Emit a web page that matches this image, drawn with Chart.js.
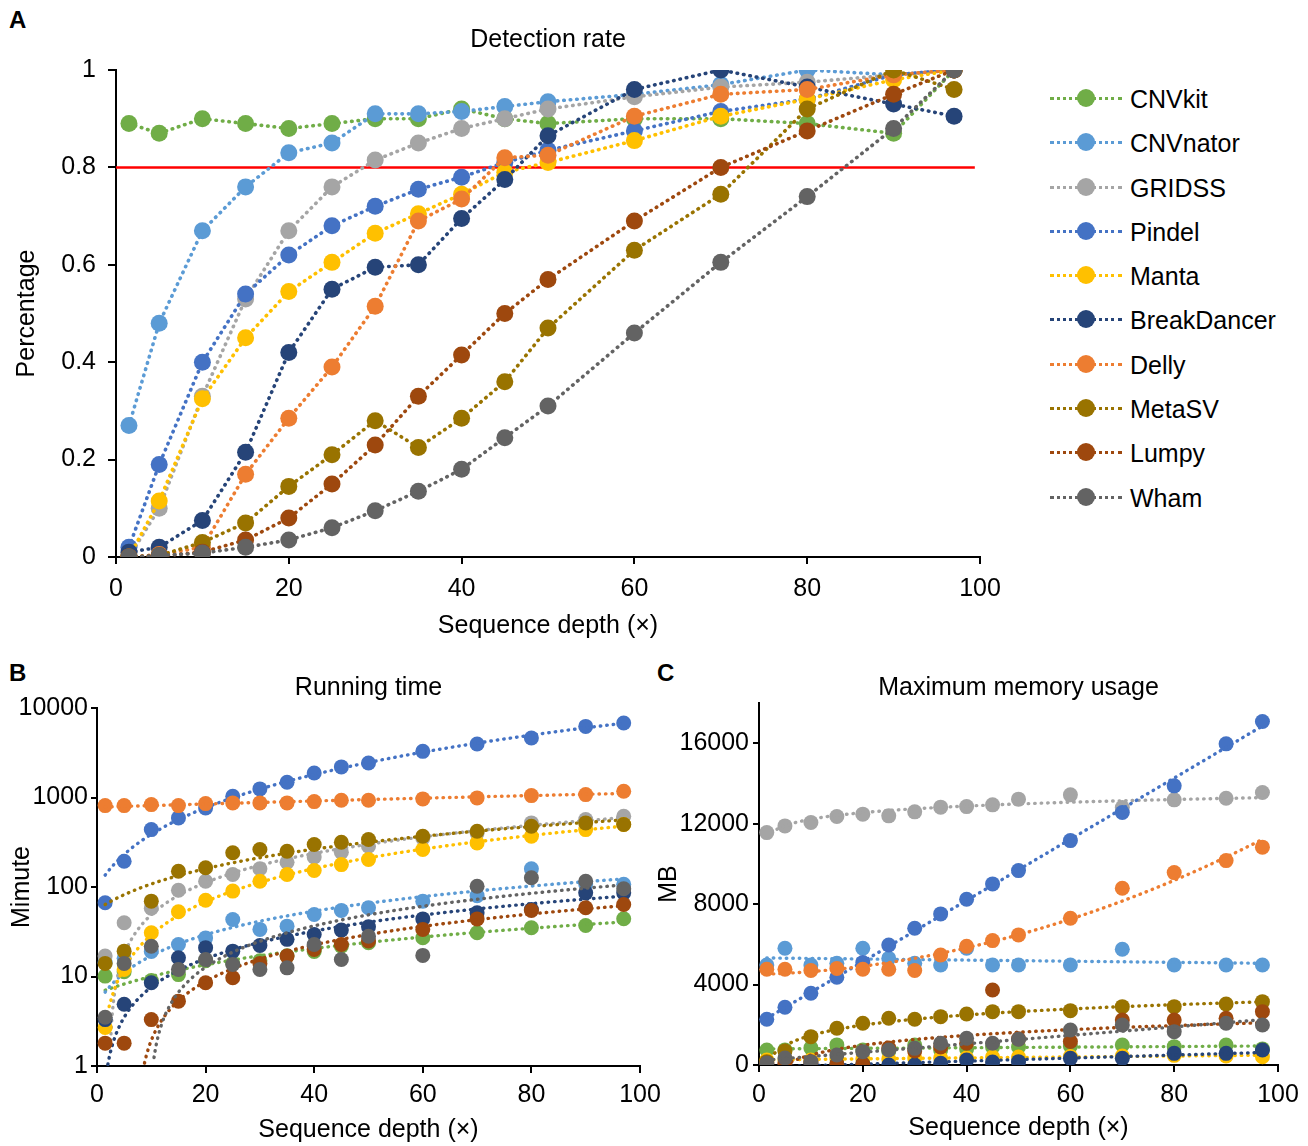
<!DOCTYPE html>
<html>
<head>
<meta charset="utf-8">
<script src="https://cdn.jsdelivr.net/npm/chart.js@4.4.1/dist/chart.umd.min.js"></script>
<style>
  body { margin: 0; background: #fff; font-family: 'Liberation Sans', Arial, sans-serif; }
  #wrap { position: relative; width: 1308px; height: 1146px; overflow: hidden; }
  canvas { position: absolute; }
  .tag { position: absolute; font-weight: bold; font-size: 24px; }
  .legend { position: absolute; left: 1050px; top: 76px; }
  .item { position: relative; height: 44.3px; font-size: 25px; width: 250px; }
  .item .ln { position: absolute; left: 0; top: 21px; width: 72px; border-top: 3px dotted; }
  .item .dot { position: absolute; left: 27px; top: 13px; width: 18px; height: 18px; border-radius: 50%; }
  .item span { position: absolute; left: 80px; top: 8px; line-height: 30px; white-space: nowrap; }
</style>
</head>
<body>
<div id="wrap">
  <div class="tag" style="left:9px;top:6px">A</div>
  <div class="tag" style="left:9px;top:659px">B</div>
  <div class="tag" style="left:657px;top:659px">C</div>
  <canvas id="rate" width="1040" height="650" style="left:0;top:0"></canvas>
  <canvas id="runtime" width="660" height="496" style="left:0;top:650px"></canvas>
  <canvas id="memory" width="658" height="496" style="left:650px;top:650px"></canvas>
  <div class="legend" id="legend"></div>
</div>
<script>
// ---- data ----
const depths = [1.5, 5, 10, 15, 20, 25, 30, 35, 40, 45, 50, 60, 70, 80, 90, 97];
const tools = ['CNVkit', 'CNVnator', 'GRIDSS', 'Pindel', 'Manta', 'BreakDancer', 'Delly', 'MetaSV', 'Lumpy', 'Wham'];
const colors = ['#70AD47', '#5B9BD5', '#A5A5A5', '#4472C4', '#FFC000', '#264478', '#ED7D31', '#997300', '#9E480E', '#636363'];

const depthTicks = [0, 20, 40, 60, 80, 100];
const rateTicks = [0, 0.2, 0.4, 0.6, 0.8, 1];
const runTicks = [1, 10, 100, 1000, 10000];
const memTicks = [0, 4000, 8000, 12000, 16000];

const cutoff = 0.8;
const cutoffSpan = [0, 99.4];

// A: detection rate
const rateCNVkit      = [0.89, 0.87, 0.90, 0.89, 0.88, 0.89, 0.90, 0.90, 0.92, 0.90, 0.89, 0.90, 0.90, 0.89, 0.87, 1.0];
const rateCNVnator    = [0.27, 0.48, 0.67, 0.76, 0.83, 0.85, 0.91, 0.91, 0.915, 0.925, 0.935, 0.95, 0.97, 1.0, 0.99, 1.0];
const rateGRIDSS      = [0, 0.10, 0.33, 0.53, 0.67, 0.76, 0.815, 0.85, 0.88, 0.90, 0.92, 0.945, 0.965, 0.975, 0.99, 1.0];
const ratePindel      = [0.02, 0.19, 0.40, 0.54, 0.62, 0.68, 0.72, 0.755, 0.78, 0.81, 0.835, 0.875, 0.915, 0.94, 0.99, 1.0];
const rateManta       = [0, 0.115, 0.325, 0.45, 0.545, 0.605, 0.665, 0.705, 0.745, 0.79, 0.81, 0.855, 0.905, 0.94, 0.98, 1.0];
const rateBreakDancer = [0.01, 0.02, 0.075, 0.215, 0.42, 0.55, 0.595, 0.60, 0.695, 0.775, 0.865, 0.96, 1.0, 0.965, 0.93, 0.905];
const rateDelly       = [0, 0.005, 0.02, 0.17, 0.285, 0.39, 0.515, 0.69, 0.735, 0.82, 0.825, 0.905, 0.95, 0.96, 0.99, 1.0];
const rateMetaSV      = [0, 0.003, 0.03, 0.07, 0.145, 0.21, 0.28, 0.225, 0.285, 0.36, 0.47, 0.63, 0.745, 0.92, 1.0, 0.96];
const rateLumpy       = [0, 0.002, 0.01, 0.035, 0.08, 0.15, 0.23, 0.33, 0.415, 0.50, 0.57, 0.69, 0.80, 0.875, 0.95, 1.0];
const rateWham        = [0, 0.003, 0.008, 0.02, 0.035, 0.06, 0.095, 0.135, 0.18, 0.245, 0.31, 0.46, 0.605, 0.74, 0.88, 1.0];

// B: running time (minutes)
const runCNVkit      = [10.1, 11.3, 9, 10.5, 15, 14, 15, 17, 19, 21.8, 23.8, 27.1, 30.8, 35, 37.2, 44.2];
const runCNVnator    = [14.3, 16, 19, 22.8, 27, 43.4, 33.6, 36.5, 49.3, 54.7, 58.6, 69.5, 80, 160, 108, 107];
const runGRIDSS      = [16.9, 39.8, 58, 92, 116, 138, 160, 189, 217, 245, 285, 350, 400, 520, 567, 617];
const runPindel      = [66.6, 194, 438, 592, 765, 1031, 1248, 1479, 1880, 2196, 2432, 3280, 3965, 4626, 6232, 6800];
const runManta       = [2.7, 12, 30.8, 52.9, 71, 90, 116, 138, 153, 178, 203, 262, 311, 369, 438, 499];
const runBreakDancer = [3.3, 4.9, 8.5, 16.2, 21, 19.2, 22.2, 26, 29.5, 33, 36, 44, 51.5, 56, 86, 86];
const runDelly       = [812, 812, 833, 812, 855, 870, 870, 870, 900, 931, 931, 965, 990, 1050, 1077, 1173];
const runMetaSV      = [14, 19.2, 69.5, 150, 164, 241, 262, 251, 298, 316, 339, 369, 420, 477, 520, 499];
const runLumpy       = [1.8, 1.8, 3.3, 5.3, 8.5, 9.7, 14, 16.9, 20, 22.8, 25, 33.6, 44, 54.7, 58.6, 63.8];
const runWham        = [3.5, 14, 21.8, 12, 15.5, 13.6, 12, 12.5, 22.8, 15.5, 28.2, 17.2, 102, 127, 116, 95.5];
const runFits = ['lin', 'lin', 'lin', 'poly2', 'pow', 'lin', 'lin', 'lin', 'lin', 'lin'];

// C: maximum memory usage (MB)
const memCNVkit      = [746, 750, 850, 1000, 750, 700, 995, 746, 800, 900, 900, 950, 995, 912, 995, 800];
const memCNVnator    = [4975, 5804, 4975, 5058, 5804, 5300, 5058, 4975, 5804, 4975, 4975, 4975, 5755, 4975, 4975, 4975];
const memGRIDSS      = [11557, 11890, 12055, 12353, 12472, 12388, 12587, 12820, 12850, 12935, 13218, 13432, 12800, 13184, 13267, 13547];
const memPindel      = [2273, 2870, 3567, 4363, 5100, 5970, 6800, 7512, 8244, 9005, 9667, 11159, 12552, 13881, 15970, 17080];
const memManta       = [250, 250, 250, 300, 300, 300, 350, 350, 350, 400, 400, 420, 450, 480, 450, 415];
const memBreakDancer = [0, 0, 50, 50, 50, 0, 0, 83, 249, 150, 166, 332, 332, 580, 580, 746];
const memDelly       = [4761, 4761, 4700, 4800, 4761, 4761, 4700, 5473, 5900, 6186, 6468, 7298, 8791, 9568, 10164, 10831];
const memMetaSV      = [166, 700, 1410, 1824, 2073, 2322, 2272, 2405, 2537, 2653, 2653, 2703, 2902, 2902, 3035, 3151];
const memLumpy       = [100, 100, 150, 30, 30, 850, 700, 900, 1078, 3731, 1300, 1169, 2239, 2239, 2322, 2653];
const memWham        = [100, 350, 166, 500, 663, 746, 829, 1078, 1327, 1078, 1280, 1741, 1990, 1658, 2073, 1990];
const memFits = ['lin', 'lin', 'log', 'lin', 'lin', 'lin', 'poly2', 'log', 'log', 'lin'];

const detection = [rateCNVkit, rateCNVnator, rateGRIDSS, ratePindel, rateManta, rateBreakDancer, rateDelly, rateMetaSV, rateLumpy, rateWham];
const runtime = [runCNVkit, runCNVnator, runGRIDSS, runPindel, runManta, runBreakDancer, runDelly, runMetaSV, runLumpy, runWham];
const memory = [memCNVkit, memCNVnator, memGRIDSS, memPindel, memManta, memBreakDancer, memDelly, memMetaSV, memLumpy, memWham];

// ---- trend lines (least squares, like the spreadsheet trendlines) ----
function fit(xs, ys, kind) {
  if (kind === 'poly2') {
    const s = [0, 0, 0, 0, 0], t = [0, 0, 0];
    xs.forEach((x, i) => {
      for (let k = 0; k < 5; k++) s[k] += Math.pow(x, k);
      for (let k = 0; k < 3; k++) t[k] += ys[i] * Math.pow(x, k);
    });
    const m = [[s[0], s[1], s[2], t[0]], [s[1], s[2], s[3], t[1]], [s[2], s[3], s[4], t[2]]];
    for (let c = 0; c < 3; c++) {
      for (let r = c + 1; r < 3; r++) {
        const f = m[r][c] / m[c][c];
        for (let k = c; k < 4; k++) m[r][k] -= f * m[c][k];
      }
    }
    const co = [0, 0, 0];
    for (let r = 2; r >= 0; r--) {
      let v = m[r][3];
      for (let k = r + 1; k < 3; k++) v -= m[r][k] * co[k];
      co[r] = v / m[r][r];
    }
    return x => co[0] + co[1] * x + co[2] * x * x;
  }
  const fx = kind === 'lin' ? (x => x) : Math.log;
  const fy = kind === 'pow' ? Math.log : (y => y);
  const u = xs.map(fx), v = ys.map(fy);
  const n = u.length;
  const mu = u.reduce((a, b) => a + b, 0) / n, mv = v.reduce((a, b) => a + b, 0) / n;
  let sxy = 0, sxx = 0;
  for (let i = 0; i < n; i++) { sxy += (u[i] - mu) * (v[i] - mv); sxx += (u[i] - mu) * (u[i] - mu); }
  const b = sxy / sxx, a = mv - b * mu;
  return x => { const r = a + b * fx(x); return kind === 'pow' ? Math.exp(r) : r; };
}

function trendPoints(ys, kind, minY) {
  const f = fit(depths, ys, kind);
  const pts = [];
  const last = depths[depths.length - 1];
  for (let x = depths[0]; x <= last + 1e-9; x += 0.25) {
    const y = f(x);
    if (minY === undefined || y >= minY) pts.push({ x: x, y: y });
  }
  return pts;
}

// ---- chart setup ----
Chart.defaults.font.family = "'Liberation Sans', Arial, sans-serif";
Chart.defaults.font.size = 25;
Chart.defaults.color = '#000';
Chart.defaults.animation = false;

const dotted = [0.5, 6];

function xAxis(h, tickPad, titlePad) {
  return {
    type: 'linear', min: 0, max: 100,
    afterBuildTicks: s => { s.ticks = depthTicks.map(v => ({ value: v })); },
    afterFit: s => { s.height = h; s.paddingLeft = 0; s.paddingRight = 0; },
    border: { color: '#000', width: 2 },
    grid: { drawOnChartArea: false, color: '#000', lineWidth: 2, tickLength: 7 },
    ticks: { padding: tickPad, maxRotation: 0, autoSkip: false },
    title: { display: true, text: 'Sequence depth (×)', padding: { top: 0, bottom: titlePad } }
  };
}

function yAxis(o) {
  return {
    type: o.type, min: o.min, max: o.max,
    afterBuildTicks: s => { s.ticks = o.ticks.map(v => ({ value: v })); },
    afterFit: s => { s.width = o.w; s.paddingTop = 0; s.paddingBottom = 0; },
    border: { color: '#000', width: 2 },
    grid: { drawOnChartArea: false, color: '#000', lineWidth: 2, tickLength: o.tl },
    ticks: { padding: o.pad, autoSkip: false, callback: v => String(v) },
    title: { display: true, text: o.title, padding: { top: o.titlePad, bottom: 0 } }
  };
}

function titleOpt(text, top, bottom) {
  return { display: true, text: text, fullSize: false, font: { size: 25, weight: 'normal' }, padding: { top: top, bottom: bottom } };
}

const basePlugins = { legend: { display: false }, tooltip: { enabled: false } };

// A: detection rate
const rateSets = tools.map((name, i) => ({
  label: name,
  data: depths.map((x, j) => ({ x: x, y: detection[i][j] })),
  borderColor: colors[i], backgroundColor: colors[i],
  borderWidth: 3.6, borderDash: dotted, borderCapStyle: 'round',
  pointRadius: 8.5, pointBorderWidth: 0, pointBackgroundColor: colors[i],
  tension: 0, order: 10 - i
}));
rateSets.push({
  label: 'cutoff',
  data: cutoffSpan.map(x => ({ x: x, y: cutoff })),
  borderColor: '#FF0000', borderWidth: 2.5, pointRadius: 0, order: 30
});

new Chart(document.getElementById('rate'), {
  type: 'line',
  data: { datasets: rateSets },
  options: {
    responsive: false, devicePixelRatio: 1,
    layout: { padding: { left: 0, right: 60, top: 0, bottom: 0 } },
    plugins: Object.assign({ title: titleOpt('Detection rate', 25, 15) }, basePlugins),
    scales: {
      x: xAxis(93, 10, 9),
      y: yAxis({ type: 'linear', min: 0, max: 1, ticks: rateTicks, w: 116, tl: 8, pad: 12, title: 'Percentage', titlePad: 12 })
    }
  }
});

// B and C: points plus trend lines
function pointAndTrendSets(values, fits, minY, radius) {
  const sets = [];
  tools.forEach((name, i) => {
    sets.push({
      label: name,
      data: depths.map((x, j) => ({ x: x, y: values[i][j] })),
      showLine: false, pointRadius: radius, pointBorderWidth: 0,
      pointBackgroundColor: colors[i], backgroundColor: colors[i],
      order: 2 * (10 - i) + 1
    });
    sets.push({
      label: name + ' trend',
      data: trendPoints(values[i], fits[i], minY),
      borderColor: colors[i], borderWidth: 3.4, borderDash: dotted, borderCapStyle: 'round',
      pointRadius: 0, tension: 0, order: 2 * (10 - i)
    });
  });
  return sets;
}

new Chart(document.getElementById('runtime'), {
  type: 'line',
  data: { datasets: pointAndTrendSets(runtime, runFits, 1, 7.5) },
  options: {
    responsive: false, devicePixelRatio: 1,
    layout: { padding: { left: 0, right: 20, top: 0, bottom: 0 } },
    plugins: Object.assign({ title: titleOpt('Running time', 23, 5) }, basePlugins),
    scales: {
      x: xAxis(80, 7, 1),
      y: yAxis({ type: 'logarithmic', min: 1, max: 10000, ticks: runTicks, w: 97, tl: 6, pad: 3, title: 'Mimute', titlePad: 7 })
    }
  }
});

new Chart(document.getElementById('memory'), {
  type: 'line',
  data: { datasets: pointAndTrendSets(memory, memFits, undefined, 7.5) },
  options: {
    responsive: false, devicePixelRatio: 1,
    layout: { padding: { left: 0, right: 30, top: 0, bottom: 0 } },
    plugins: Object.assign({ title: titleOpt('Maximum memory usage', 23, 0) }, basePlugins),
    scales: {
      x: xAxis(81, 8, 3),
      y: yAxis({ type: 'linear', min: 0, max: 18000, ticks: memTicks, w: 109, tl: 6, pad: 4, title: 'MB', titlePad: 4 })
    }
  }
});

// legend for panel A
const legend = document.getElementById('legend');
tools.forEach((name, i) => {
  const row = document.createElement('div');
  row.className = 'item';
  row.innerHTML = '<div class="ln" style="border-color:' + colors[i] + '"></div>' +
    '<div class="dot" style="background:' + colors[i] + '"></div><span>' + name + '</span>';
  legend.appendChild(row);
});
</script>
</body>
</html>
